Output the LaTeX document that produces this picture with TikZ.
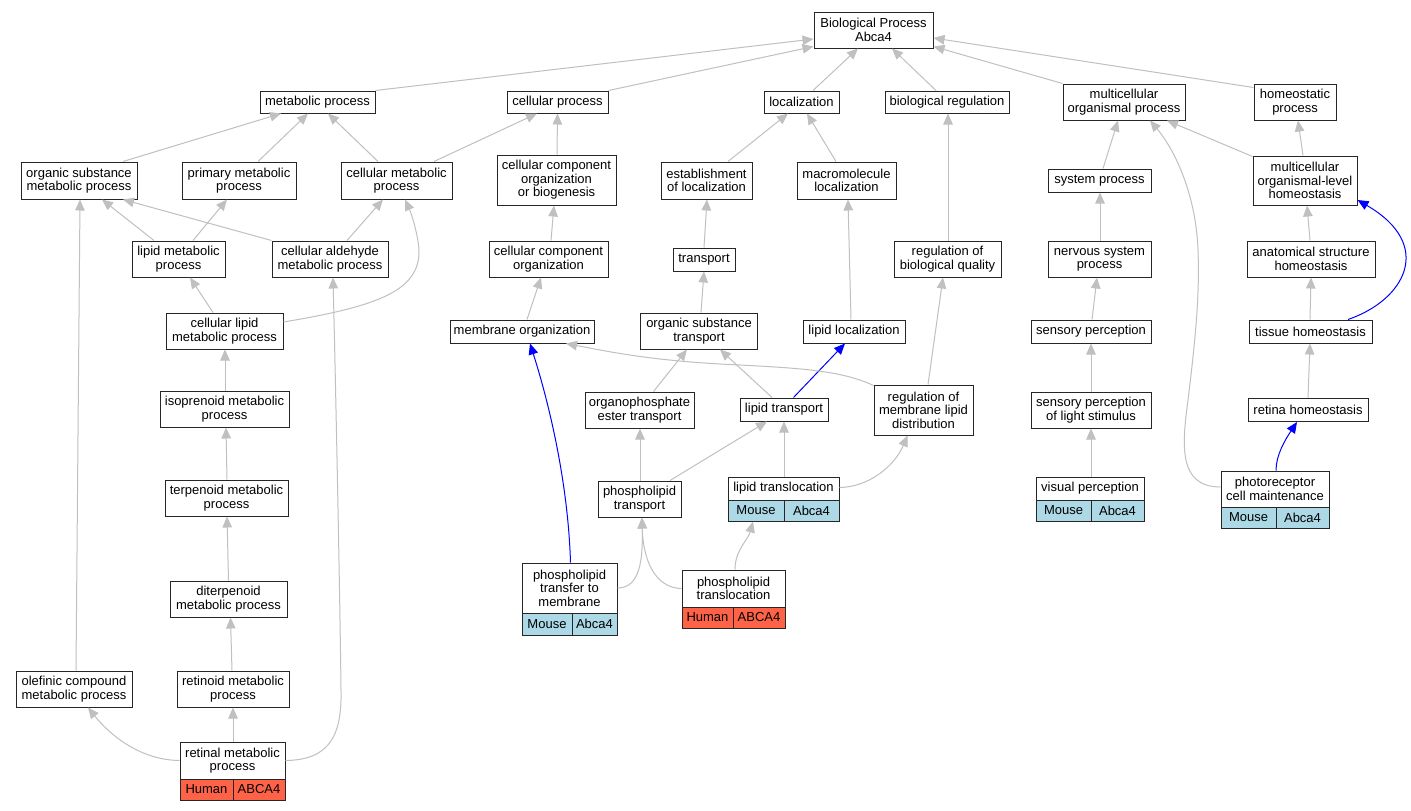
\documentclass[tikz,border=0pt]{standalone}
\usepackage{fontspec}
\setmainfont{Liberation Sans}
\usetikzlibrary{arrows.meta}
\definecolor{edgegray}{RGB}{192,192,192}
\definecolor{mouseblue}{RGB}{173,216,230}
\definecolor{humanred}{RGB}{255,99,71}
\newcommand\lbl{\fontsize{13}{13.5}\selectfont}
\tikzset{
  box/.style={draw=black!85, line width=1pt, fill=white, inner sep=0pt, align=center, font=\lbl},
  cellbox/.style={draw=black!85, line width=1pt, inner sep=0pt, font=\lbl},
  mouse/.style={cellbox, fill=mouseblue},
  human/.style={cellbox, fill=humanred},
  edge/.style={draw=edgegray, line width=1pt, -{Triangle[length=11pt,width=9.5pt]}},
  bedge/.style={draw=blue, line width=1pt, -{Triangle[length=11pt,width=9.5pt]}},
}
\begin{document}
\begin{tikzpicture}[x=1pt,y=-1pt]
\fill[white] (0,0) rectangle (1411,811);
\useasboundingbox (0,0) rectangle (1411,811);
% row 1
\node[box, minimum width=119pt, minimum height=36pt] (bio) at (873.5,30) {Biological Process\\Abca4};
% row 2
\node[box, minimum width=115pt, minimum height=22pt] (metab) at (317.5,102) {metabolic process};
\node[box, minimum width=101pt, minimum height=22pt] (cellproc) at (557.5,102) {cellular process};
\node[box, minimum width=75pt, minimum height=22pt] (local) at (801.5,102) {localization};
\node[box, minimum width=124pt, minimum height=22pt] (bioreg) at (947,102) {biological regulation};
\node[box, minimum width=122pt, minimum height=36pt] (multi) at (1124,102) {multicellular\\organismal process};
\node[box, minimum width=82pt, minimum height=36pt] (homeo) at (1295,102) {homeostatic\\process};
% row 3
\node[box, minimum width=116pt, minimum height=37pt] (orgsub) at (79,180.5) {organic substance\\metabolic process};
\node[box, minimum width=114pt, minimum height=37pt] (primary) at (239,180.5) {primary metabolic\\process};
\node[box, minimum width=111pt, minimum height=37pt] (cellmet) at (396.5,180.5) {cellular metabolic\\process};
\node[box, minimum width=119pt, minimum height=50pt] (ccob) at (556.5,180) {cellular component\\organization\\or biogenesis};
\node[box, minimum width=91pt, minimum height=37pt] (estab) at (706.5,180.5) {establishment\\of localization};
\node[box, minimum width=99pt, minimum height=37pt] (macro) at (846.5,180.5) {macromolecule\\localization};
\node[box, minimum width=103pt, minimum height=23pt] (syspr) at (1099.5,180.5) {system process};
\node[box, minimum width=104pt, minimum height=49pt] (mlh) at (1305,180.5) {multicellular\\organismal-level\\homeostasis};
% row 4
\node[box, minimum width=93pt, minimum height=36pt] (lipmet) at (178.5,259) {lipid metabolic\\process};
\node[box, minimum width=116pt, minimum height=36pt] (aldeh) at (330,259) {cellular aldehyde\\metabolic process};
\node[box, minimum width=119pt, minimum height=36pt] (cco) at (548.5,259) {cellular component\\organization};
\node[box, minimum width=62pt, minimum height=23pt] (transport) at (704,259.5) {transport};
\node[box, minimum width=107pt, minimum height=36pt] (regbq) at (947.5,259) {regulation of\\biological quality};
\node[box, minimum width=103pt, minimum height=36pt] (nsp) at (1099.5,259) {nervous system\\process};
\node[box, minimum width=128pt, minimum height=36pt] (ash) at (1311,259) {anatomical structure\\homeostasis};
% row 5
\node[box, minimum width=117pt, minimum height=36pt] (celllip) at (224.5,331) {cellular lipid\\metabolic process};
\node[box, minimum width=144pt, minimum height=23pt] (memorg) at (522,331.5) {membrane organization};
\node[box, minimum width=117pt, minimum height=36pt] (ost) at (699,331) {organic substance\\transport};
\node[box, minimum width=102pt, minimum height=23pt] (lipl) at (854,331.5) {lipid localization};
\node[box, minimum width=120pt, minimum height=23pt] (sensp) at (1091,331.5) {sensory perception};
\node[box, minimum width=123pt, minimum height=23pt] (tissue) at (1310.5,331.5) {tissue homeostasis};
% row 6
\node[box, minimum width=129pt, minimum height=36pt] (isop) at (224.5,409) {isoprenoid metabolic\\process};
\node[box, minimum width=109pt, minimum height=36pt] (organoph) at (639.5,410) {organophosphate\\ester transport};
\node[box, minimum width=88pt, minimum height=23pt] (liptr) at (784,409.5) {lipid transport};
\node[box, minimum width=99pt, minimum height=50pt] (regmld) at (923.5,410) {regulation of\\membrane lipid\\distribution};
\node[box, minimum width=120pt, minimum height=36pt] (splight) at (1091,410) {sensory perception\\of light stimulus};
\node[box, minimum width=120pt, minimum height=23pt] (retinah) at (1308,410) {retina homeostasis};
% row 7
\node[box, minimum width=123pt, minimum height=36pt] (terp) at (226.5,498) {terpenoid metabolic\\process};
\node[box, minimum width=83pt, minimum height=36pt] (phtrans) at (639.5,499) {phospholipid\\transport};
\node[box, minimum width=111pt, minimum height=23pt] (liptl) at (783.5,488.5) {lipid translocation};
\node[mouse, minimum width=56pt, minimum height=21pt] (liptl-a) at (756,510.5) {Mouse};
\node[mouse, minimum width=55pt, minimum height=21pt] (liptl-b) at (811.5,510.5) {Abca4};
\node[box, minimum width=108pt, minimum height=23pt] (visp) at (1090,488.5) {visual perception};
\node[mouse, minimum width=55pt, minimum height=21pt] (visp-a) at (1063.5,510.5) {Mouse};
\node[mouse, minimum width=53pt, minimum height=21pt] (visp-b) at (1117.5,510.5) {Abca4};
\node[box, minimum width=108pt, minimum height=36pt] (photo) at (1275,489) {photoreceptor\\cell maintenance};
\node[mouse, minimum width=55pt, minimum height=21pt] (photo-a) at (1248.5,517.5) {Mouse};
\node[mouse, minimum width=53pt, minimum height=21pt] (photo-b) at (1302.5,517.5) {Abca4};
% row 8
\node[box, minimum width=117pt, minimum height=36pt] (diterp) at (228.5,599) {diterpenoid\\metabolic process};
\node[box, minimum width=95pt, minimum height=50pt] (pltm) at (569.5,588) {phospholipid\\transfer to\\membrane};
\node[mouse, minimum width=50pt, minimum height=22pt] (pltm-a) at (547,624) {Mouse};
\node[mouse, minimum width=45pt, minimum height=22pt] (pltm-b) at (594.5,624) {Abca4};
\node[box, minimum width=103pt, minimum height=37pt] (pltl) at (733.5,588.5) {phospholipid\\translocation};
\node[human, minimum width=51pt, minimum height=21pt] (pltl-a) at (707.5,617.5) {Human};
\node[human, minimum width=52pt, minimum height=21pt] (pltl-b) at (759,617.5) {ABCA4};
% row 9
\node[box, minimum width=116pt, minimum height=36pt] (olef) at (74,689) {olefinic compound\\metabolic process};
\node[box, minimum width=112pt, minimum height=36pt] (retinoid) at (233,689) {retinoid metabolic\\process};
% row 10
\node[box, minimum width=105pt, minimum height=37pt] (retinal) at (232.5,760.5) {retinal metabolic\\process};
\node[human, minimum width=53pt, minimum height=21pt] (retinal-a) at (206.5,789.5) {Human};
\node[human, minimum width=52pt, minimum height=21pt] (retinal-b) at (259,789.5) {ABCA4};

% edges to bio
\draw[edge] (metab.north east) -- ([yshift=-9pt]bio.west);
\draw[edge] (cellproc.north east) -- ([yshift=2pt]bio.south west);
\draw[edge] ([xshift=11.5pt]local.north) -- ([xshift=-15.5pt]bio.south);
\draw[edge] ([xshift=-11pt]bioreg.north) -- ([xshift=18.5pt]bio.south);
\draw[edge] (multi.north west) -- ([yshift=2pt]bio.south east);
\draw[edge] ([yshift=-4pt]homeo.north west) -- ([yshift=-8pt]bio.east);
% row 3 -> row 2
\draw[edge] ([xshift=44pt]orgsub.north) -- ([xshift=-36.5pt]metab.south);
\draw[edge] ([xshift=19pt]primary.north) -- ([xshift=-9.5pt]metab.south);
\draw[edge] ([xshift=-18.5pt]cellmet.north) -- ([xshift=10.5pt]metab.south);
\draw[edge] ([xshift=37.5pt]cellmet.north) -- ([xshift=-20.5pt]cellproc.south);
\draw[edge] ([xshift=0.5pt]ccob.north) -- (cellproc.south);
\draw[edge] ([xshift=21.5pt]estab.north) -- ([xshift=-13.5pt]local.south);
\draw[edge] ([xshift=-10.5pt]macro.north) -- ([xshift=5.5pt]local.south);
\draw[edge] ([xshift=0.5pt]regbq.north) -- ([xshift=1pt]bioreg.south);
\draw[edge] ([xshift=3.5pt]syspr.north) -- ([xshift=-6pt]multi.south);
\draw[edge] ([yshift=-1pt]mlh.north west) -- ([xshift=43pt]multi.south);
\draw[edge] ([xshift=-2pt]mlh.north) -- ([xshift=3pt]homeo.south);
% row 4 -> row 3
\draw[edge] ([xshift=-24.5pt]lipmet.north) -- ([xshift=23pt]orgsub.south);
\draw[edge] ([xshift=14.5pt]lipmet.north) -- ([xshift=-12pt]primary.south);
\draw[edge] (aldeh.north west) -- ([xshift=44pt]orgsub.south);
\draw[edge] ([xshift=17pt]aldeh.north) -- ([xshift=-13.5pt]cellmet.south);
\draw[edge] ([yshift=9pt]celllip.east) .. controls (380,306) and (420,290) .. (419,250) .. controls (418,235) and (412,215) .. ([xshift=8.5pt]cellmet.south);
\draw[edge] ([xshift=2.5pt]cco.north) -- ([xshift=-2.5pt]ccob.south);
\draw[edge] (transport.north) -- ([xshift=0.5pt]estab.south);
\draw[edge] ([xshift=-3pt]lipl.north) -- ([xshift=1.5pt]macro.south);
\draw[edge] ([xshift=4.5pt]regmld.north) -- ([xshift=-4.5pt]regbq.south);
\draw[edge] ([xshift=0.5pt]nsp.north) -- ([xshift=0.5pt]syspr.south);
\draw[edge] ([xshift=-1pt]ash.north) -- ([xshift=2pt]mlh.south);
% row 5 -> row 4
\draw[edge] ([xshift=-11.5pt]celllip.north) -- ([xshift=11.5pt]lipmet.south);
\draw[edge] ([xshift=5pt]memorg.north) -- ([xshift=-7.5pt]cco.south);
\draw[edge] ([xshift=2pt]ost.north) -- (transport.south);
\draw[edge] ([xshift=1pt]sensp.north) -- ([xshift=-2.5pt]nsp.south);
\draw[edge] ([xshift=-0.5pt]tissue.north) -- (ash.south);
\draw[bedge] ([xshift=37.5pt]tissue.north) .. controls (1405,300) and (1435,245) .. ([yshift=-19.5pt]mlh.east);
% row 6 -> row 5
\draw[edge] ([xshift=0.5pt]isop.north) -- ([xshift=0.5pt]celllip.south);
\draw[edge] ([xshift=14pt]organoph.north) -- ([xshift=-12pt]ost.south);
\draw[edge] ([xshift=-12pt]liptr.north) -- ([xshift=21pt]ost.south);
\draw[bedge] ([xshift=9.5pt]liptr.north) -- ([xshift=-9pt]lipl.south);
\draw[edge] ([yshift=-1pt]regmld.north west) .. controls (840,370) and (800,368) .. (720,364) .. controls (650,360) and (610,352) .. ([xshift=44pt]memorg.south);
\draw[edge] (splight.north) -- (sensp.south);
\draw[edge] (retinah.north) -- ([xshift=-0.5pt]tissue.south);
% row 7 -> row 6
\draw[edge] ([xshift=0.5pt]terp.north) -- ([xshift=1.5pt]isop.south);
\draw[edge] ([xshift=0.5pt]phtrans.north) -- ([xshift=0.5pt]organoph.south);
\draw[edge] ([xshift=30.5pt]phtrans.north) -- ([xshift=-17pt]liptr.south);
\draw[edge] ([xshift=0.5pt]liptl.north) -- (liptr.south);
\draw[edge] ([yshift=1pt]liptl.east) .. controls (870,487) and (895,465) .. ([xshift=-16pt]regmld.south);
\draw[edge] ([xshift=1pt]visp.north) -- (splight.south);
\draw[bedge] ([xshift=1pt]photo.north) .. controls (1276,455) and (1285,440) .. ([xshift=-11pt]retinah.south);
\draw[edge] ([yshift=2pt]photo.west) .. controls (1178,487) and (1182,445) .. (1188,400) .. controls (1194,350) and (1200,300) .. (1198,250) .. controls (1196,195) and (1175,150) .. ([xshift=26pt]multi.south);
% row 8 -> row 7
\draw[edge] (diterp.north) -- ([xshift=0.5pt]terp.south);
\draw[bedge] ([xshift=1pt]pltm.north) .. controls (568,480) and (548,400) .. ([xshift=8pt]memorg.south);
\draw[edge] (pltm.east) .. controls (640,588) and (643,560) .. ([xshift=2.5pt]phtrans.south);
\draw[edge] (pltl.west) .. controls (655,588) and (643,560) .. ([xshift=2.5pt]phtrans.south);
\draw[edge] ([xshift=1.5pt]pltl.north) .. controls (735,550) and (748,540) .. ([xshift=-3pt]liptl-a.south);
% row 9 -> up
\draw[edge] ([xshift=2pt]olef.north) -- ([xshift=1pt]orgsub.south);
\draw[edge] ([xshift=-1pt]retinoid.north) -- ([xshift=2pt]diterp.south);
% row 10 -> up
\draw[edge] (retinal.west) .. controls (140,760) and (110,735) .. ([xshift=14pt]olef.south);
\draw[edge] ([xshift=0.5pt]retinal.north) -- (retinoid.south);
\draw[edge] (retinal.east) .. controls (330,760) and (342,735) .. (341,690) .. controls (340,600) and (336,400) .. ([xshift=3pt]aldeh.south);
\end{tikzpicture}
\end{document}
